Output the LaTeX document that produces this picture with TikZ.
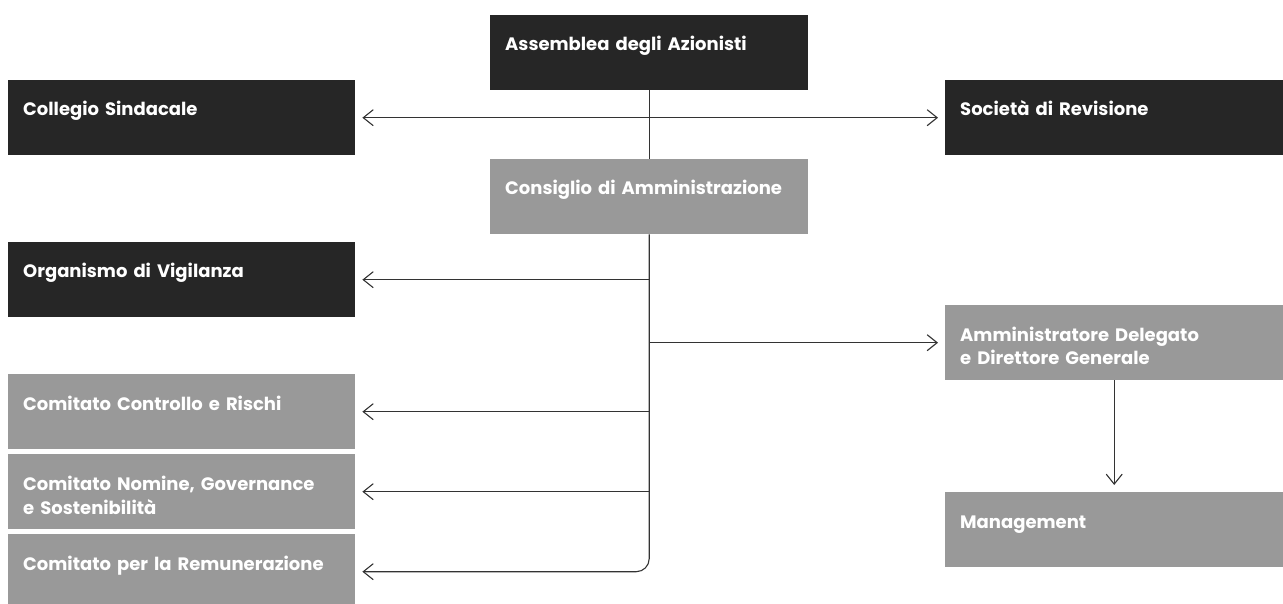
\documentclass[tikz,border=0pt]{standalone}
\usepackage{fontspec}
\setmainfont{Poppins}
\usepackage{tikz}
\usetikzlibrary{arrows.meta,positioning,calc}
\tikzset{
  font={\fontsize{18pt}{24pt}\selectfont\bfseries}}
% text kept at the top of a box
\newcommand{\toptext}[1]{\parbox[t][37pt][t]{\linewidth}{\raggedright\strut #1}}

\begin{document}
\begin{tikzpicture}[x=1pt,y=-1pt,
    block/.style ={rectangle, draw=none, anchor=north west, text=white,
      align=left, inner xsep=15pt, inner ysep=19pt, minimum height=75pt},
    block_dark/.style ={block, fill=black!85},
    block_light/.style ={block, fill=black!40},
    col_left/.style ={text width=317pt},
    col_mid/.style ={text width=288pt},
    col_right/.style ={text width=308pt},
    paths2/.style={draw=black!80, line width=1.1pt, shorten >=7pt,
      arrows={-Straight Barb[length=10pt, width=16pt, line width=1.1pt]}},
    link/.style={draw=black!80, line width=1.1pt}]
    \useasboundingbox (0,0) rectangle (1283,604);
    % middle column
    \node[block_dark, col_mid] (asm) at (490,15) {\toptext{Assemblea degli Azionisti}};
    \node[block_light, col_mid] (cons) at (490,159) {\toptext{Consiglio di Amministrazione}};
    % left column
    \node[block_dark, col_left] (coll) at (8,80) {\toptext{Collegio Sindacale}};
    \node[block_dark, col_left] (odv) at (8,242) {\toptext{Organismo di Vigilanza}};
    \node[block_light, col_left] (ccr) at (8,374) {\toptext{Comitato Controllo e Rischi}};
    \node[block_light, col_left] (cng) at (8,454) {\toptext{Comitato Nomine, Governance\\e Sostenibilità}};
    \node[block_light, col_left] (crem) at (8,534) {\toptext{Comitato per la Remunerazione}};
    % right column
    \node[block_dark, col_right] (soc) at (945,80) {\toptext{Società di Revisione}};
    \node[block_light, col_right] (ad) at (945,305) {\toptext{Amministratore Delegato\\e Direttore Generale}};
    \node[block_light, col_right] (mgmt) at (945,492) {\toptext{Management}};
    % connecting nodes with paths
    \path[link] (asm.south) -- (cons.north);
    \begin{scope}[every path/.style=paths2]
      \path (asm.south |- coll.east) -- (coll.east);
      \path (asm.south |- soc.west) -- (soc.west);
      \path (cons.south |- odv.east) -- (odv.east);
      \path (cons.south |- ad.west) -- (ad.west);
      \path (cons.south |- ccr.east) -- (ccr.east);
      \path (cons.south |- cng.east) -- (cng.east);
      \path[rounded corners=13pt] (cons.south) |- (crem.east);
      \path (ad.south) -- (mgmt.north);
    \end{scope}
  \end{tikzpicture}
\end{document}
